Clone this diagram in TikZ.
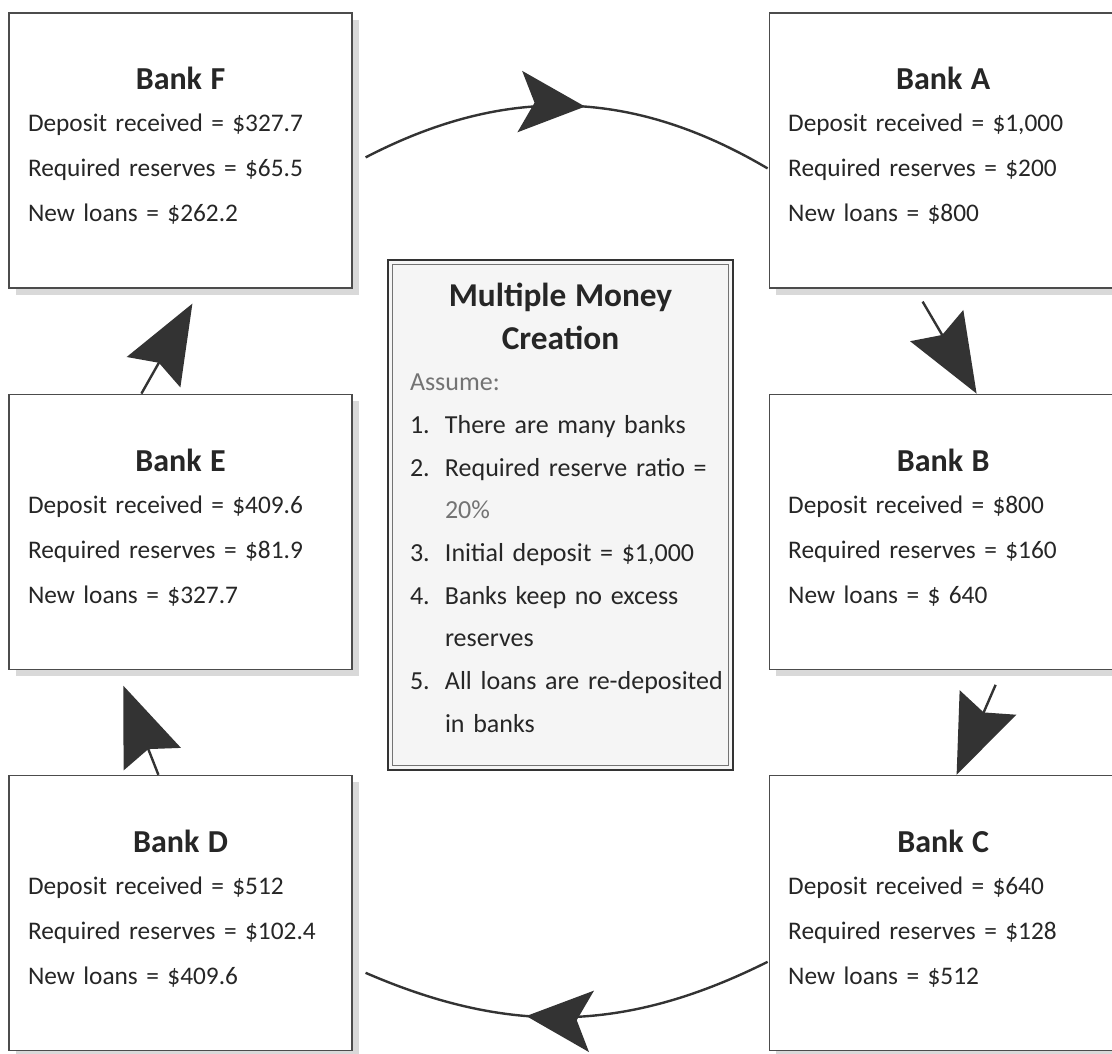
\documentclass[tikz,border=0pt]{standalone}
\usepackage{fontspec}
\setmainfont{Carlito}
\usetikzlibrary{arrows.meta,positioning,calc,shadows,decorations.markings}

\newcommand{\bankhead}[1]{{\centering\fontsize{24}{30}\selectfont\bfseries #1\par}\vspace{-2.25pt}}
\newcommand{\bankend}{\endgraf\vspace*{6.75pt}}
\newcommand{\centrehead}[1]{{\centering\fontsize{25}{32.25}\selectfont\bfseries #1\par}}
\newcommand{\numitem}[2]{\mbox{\makebox[26.25pt][l]{#1}#2}}
\newcommand{\contline}[1]{\mbox{\hspace{26.25pt}#1}}

\begin{document}
\begin{tikzpicture}[
    x=0.75pt, y=-0.75pt,
    node distance=78.75pt and 312pt,
    bank/.style={rectangle, draw=black!70, line width=0.9pt, fill=white, minimum width=257.25pt, minimum height=206.25pt, text width=228.75pt, align=left, inner sep=0pt, text=black!85, font=\fontsize{19}{33.75}\selectfont, execute at end node=\bankend, drop shadow={shadow xshift=5pt, shadow yshift=-5pt, fill=black!15, opacity=1}},
    wide/.style={minimum width=261pt, text width=232.5pt},
    centre/.style={rectangle, draw=black!80, line width=2.2pt, fill=black!4, minimum width=258.75pt, minimum height=382.5pt, text width=225.75pt, align=left, inner sep=0pt, text=black!85, font=\fontsize{19.5}{32}\selectfont},
    arrow/.style={draw=black!80, line width=1.8pt, -{Stealth[length=59pt,width=46pt,inset=8pt]}},
    arcflow/.style={draw=black!80, line width=1.8pt, postaction={decorate}, decoration={markings, mark=at position #1 with {\arrow{Stealth[length=49pt,width=46pt,inset=11pt]}}}}
]
\useasboundingbox[fill=white] (0,0) rectangle (1112,1053);

% Banks
\node[bank] (bankF) at (180.5,150.5) {\bankhead{Bank F}Deposit received = \$327.7\\Required reserves = \$65.5\\New loans = \$262.2};
\node[bank, wide, right=of bankF] (bankA) {\bankhead{Bank A}Deposit received = \$1,000\\Required reserves = \$200\\New loans = \$800};
\node[bank, wide, below=of bankA] (bankB) {\bankhead{Bank B}Deposit received = \$800\\Required reserves = \$160\\New loans = \$ 640};
\node[bank, wide, below=of bankB] (bankC) {\bankhead{Bank C}Deposit received = \$640\\Required reserves = \$128\\New loans = \$512};
\node[bank, below=of bankF] (bankE) {\bankhead{Bank E}Deposit received = \$409.6\\Required reserves = \$81.9\\New loans = \$327.7};
\node[bank, below=of bankE] (bankD) {\bankhead{Bank D}Deposit received = \$512\\Required reserves = \$102.4\\New loans = \$409.6};

% Assumptions
\node[centre] (assume) at (560.5,515) {\centrehead{Multiple Money\\Creation}\vspace{-1pt}{\color{black!55}Assume:}\\
\numitem{1.}{There are many banks}\\
\numitem{2.}{Required reserve ratio =}\\
\contline{\color{black!55}20\%}\\
\numitem{3.}{Initial deposit = \$1,000}\\
\numitem{4.}{Banks keep no excess}\\
\contline{reserves}\\
\numitem{5.}{All loans are re-deposited}\\
\contline{in banks}\endgraf\vspace*{11pt}};
\draw[black!55, line width=0.8pt] ($(assume.north west)+(6,6)$) rectangle ($(assume.south east)+(-6,-6)$);

% Arrows
\draw[arcflow=0.54] ($(bankF.north east)+(13,145)$) to[bend left=29] ($(bankA.north west)+(-1,156)$);
\draw[arrow] ($(bankA.south west)+(154,13)$) -- ($(bankB.north west)+(208,0)$);
\draw[arrow] ($(bankB.south west)+(227,15)$) -- ($(bankC.north west)+(188,0)$);
\draw[arcflow=0.6] ($(bankC.north west)+(-1,187)$) to[bend left=25] ($(bankD.north east)+(13,198)$);
\draw[arrow] ($(bankD.north west)+(150,0)$) -- ($(bankE.south west)+(115,16)$);
\draw[arrow] ($(bankE.north west)+(133,0)$) -- ($(bankF.south west)+(184,15)$);
\end{tikzpicture}
\end{document}
